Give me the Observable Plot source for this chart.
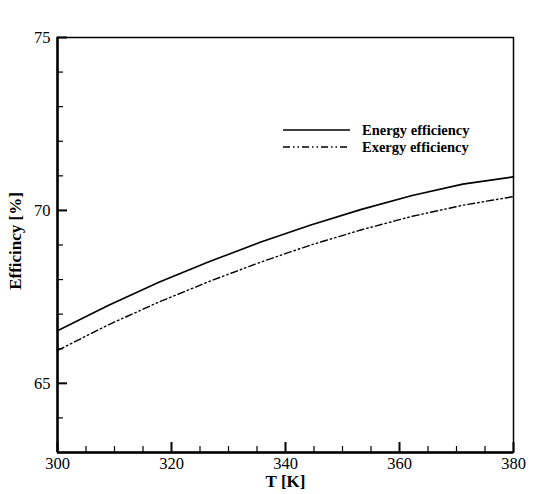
<!DOCTYPE html>
<html>
<head>
<meta charset="utf-8">
<script src="https://cdn.jsdelivr.net/npm/d3@7"></script>
<script src="https://cdn.jsdelivr.net/npm/@observablehq/plot@0.6"></script>
<style>
  html, body { margin: 0; padding: 0; background: #fff; }
  #wrap { position: relative; width: 542px; height: 494px; }
  #legend { position: absolute; left: 0; top: 0; pointer-events: none; }
  #wrap svg text { font-family: 'Liberation Serif', 'Times New Roman', serif !important; }
</style>
</head>
<body>
<div id="wrap"></div>
<script>
// Data
const T = [300, 308.89, 317.78, 326.67, 335.56, 344.44, 353.33, 362.22, 371.11, 380];
const energyEff = [66.52, 67.25, 67.92, 68.52, 69.08, 69.58, 70.03, 70.43, 70.76, 70.97];
const exergyEff = [65.95, 66.69, 67.35, 67.95, 68.50, 69.00, 69.44, 69.83, 70.15, 70.40];

const xMajor = [300, 320, 340, 360, 380];
const xMinor = [305, 310, 315, 325, 330, 335, 345, 350, 355, 365, 370, 375];
const yMajor = [65, 70, 75];
const yMinor = [64, 66, 67, 68, 69, 71, 72, 73, 74];

const seriesNames = ["Energy efficiency", "Exergy efficiency"];
const xTitle = "T [K]";
const yTitle = "Efficincy [%]";

const energy = T.map((t, i) => ({T: t, v: energyEff[i]}));
const exergy = T.map((t, i) => ({T: t, v: exergyEff[i]}));

const font = "'Liberation Serif', 'Times New Roman', serif";
const dashExergy = "7 3 1.5 3 1.5 3";
const blank = () => "";

const chart = Plot.plot({
  width: 542,
  height: 494,
  marginLeft: 57,
  marginRight: 29,
  marginTop: 37,
  marginBottom: 42,
  x: {domain: [300, 380]},
  y: {domain: [63, 75]},
  style: {fontFamily: font, background: "#fff", color: "#000"},
  marks: [
    Plot.frame({stroke: "#000", strokeWidth: 1.5}),
    Plot.ruleX([300], {stroke: "#000", strokeWidth: 2.5}),
    Plot.ruleY([63], {stroke: "#000", strokeWidth: 2.5}),
    // inward minor ticks
    Plot.axisX({ticks: xMinor, tickSize: -6, tickFormat: blank, label: null, strokeWidth: 1.2}),
    Plot.axisY({ticks: yMinor, tickSize: -6, tickFormat: blank, label: null, strokeWidth: 1.2}),
    // inward major ticks
    Plot.axisX({ticks: xMajor, tickSize: -10, tickFormat: blank, label: null, strokeWidth: 2}),
    Plot.axisY({ticks: yMajor, tickSize: -10, tickFormat: blank, label: null, strokeWidth: 2}),
    // tick labels
    Plot.axisX({ticks: xMajor, tickSize: 0, tickPadding: 5, label: null, fontSize: 16.5, fontFamily: font, fontVariant: "normal", tickFormat: d => String(d)}),
    Plot.axisY({ticks: yMajor, tickSize: 0, tickPadding: 7, label: null, fontSize: 16.5, fontFamily: font, fontVariant: "normal", tickFormat: d => String(d)}),
    // series
    Plot.line(energy, {x: "T", y: "v", stroke: "#000", strokeWidth: 1.6}),
    Plot.line(exergy, {x: "T", y: "v", stroke: "#000", strokeWidth: 1.4, strokeDasharray: dashExergy}),
    // axis titles
    Plot.text([xTitle], {frameAnchor: "bottom", dy: 29, lineAnchor: "middle", textAnchor: "middle", text: d => d, fontFamily: font, fontWeight: "bold", fontSize: 17}),
    Plot.text([yTitle], {frameAnchor: "left", dx: -42, dy: -4, rotate: -90, lineAnchor: "middle", textAnchor: "middle", text: d => d, fontFamily: font, fontWeight: "bold", fontSize: 17})
  ]
});

const wrap = document.getElementById("wrap");
wrap.appendChild(chart);

// Legend overlay
const ns = "http://www.w3.org/2000/svg";
const leg = document.createElementNS(ns, "svg");
leg.setAttribute("id", "legend");
leg.setAttribute("width", 542);
leg.setAttribute("height", 494);
const rows = [
  {name: seriesNames[0], dash: null, w: 1.6, y: 130},
  {name: seriesNames[1], dash: dashExergy, w: 1.4, y: 147}
];
rows.forEach(r => {
  const ln = document.createElementNS(ns, "line");
  ln.setAttribute("x1", 283); ln.setAttribute("x2", 350);
  ln.setAttribute("y1", r.y); ln.setAttribute("y2", r.y);
  ln.setAttribute("stroke", "#000");
  ln.setAttribute("stroke-width", r.w);
  if (r.dash) ln.setAttribute("stroke-dasharray", r.dash);
  leg.appendChild(ln);
  const tx = document.createElementNS(ns, "text");
  tx.setAttribute("x", 362);
  tx.setAttribute("y", r.y);
  tx.setAttribute("dy", "0.35em");
  tx.setAttribute("font-family", font);
  tx.setAttribute("font-weight", "bold");
  tx.setAttribute("font-size", 14.5);
  tx.textContent = r.name;
  leg.appendChild(tx);
});
wrap.appendChild(leg);
</script>
</body>
</html>
